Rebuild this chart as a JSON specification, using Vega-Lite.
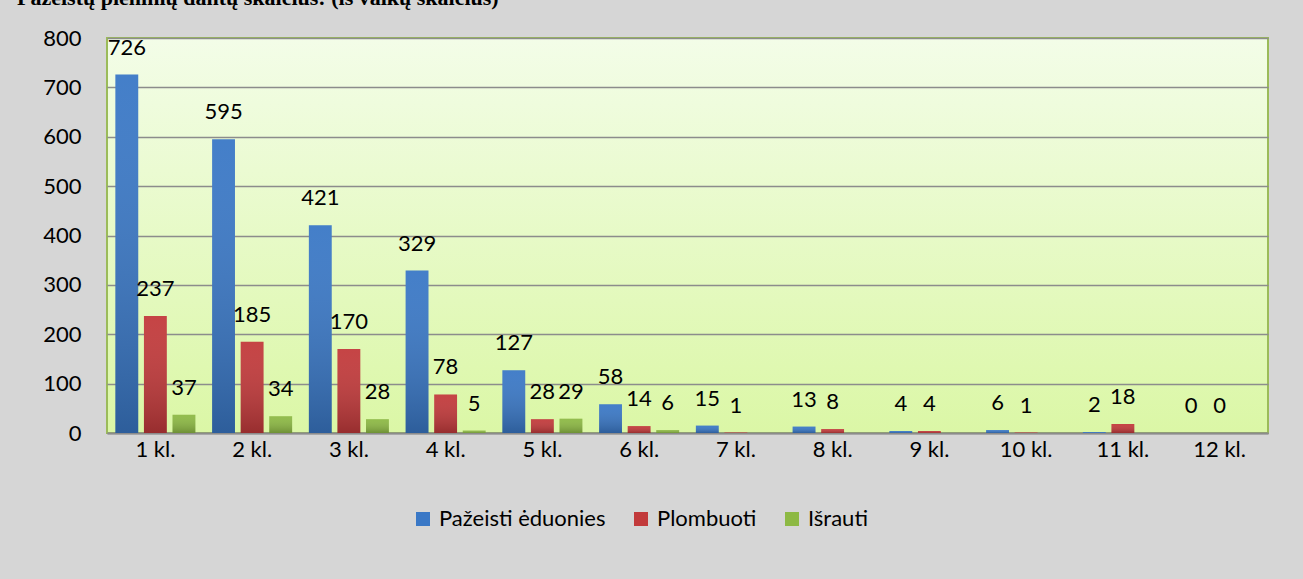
{
  "$schema": "https://vega.github.io/schema/vega-lite/v6.json",
  "width": 1161,
  "height": 395,
  "autosize": {"type": "none"},
  "padding": {"left": 107, "top": 38, "right": 35, "bottom": 146},
  "background": "#d6d6d6",
  "title": {
    "text": "Pažeistų pieninių dantų skaičius: (iš vaikų skaičius)",
    "font": "Liberation Serif",
    "fontWeight": "bold",
    "fontSize": 22,
    "color": "#000000",
    "anchor": "start",
    "frame": "group",
    "baseline": "alphabetic",
    "offset": 0,
    "dx": -90,
    "dy": 0
  },
  "config": {
    "view": {
      "fill": {
        "gradient": "linear",
        "x1": 0, "y1": 0, "x2": 0, "y2": 1,
        "stops": [
          {"offset": 0, "color": "#f3fde8"},
          {"offset": 1, "color": "#dbf7a6"}
        ]
      },
      "stroke": "#9bbb59",
      "strokeWidth": 2
    },
    "font": "Lato"
  },
  "data": {
    "values": [
      {"klase": "1 kl.", "serija": "Pažeisti ėduonies", "value": 726},
      {"klase": "1 kl.", "serija": "Plombuoti", "value": 237},
      {"klase": "1 kl.", "serija": "Išrauti", "value": 37},
      {"klase": "2 kl.", "serija": "Pažeisti ėduonies", "value": 595},
      {"klase": "2 kl.", "serija": "Plombuoti", "value": 185},
      {"klase": "2 kl.", "serija": "Išrauti", "value": 34},
      {"klase": "3 kl.", "serija": "Pažeisti ėduonies", "value": 421},
      {"klase": "3 kl.", "serija": "Plombuoti", "value": 170},
      {"klase": "3 kl.", "serija": "Išrauti", "value": 28},
      {"klase": "4 kl.", "serija": "Pažeisti ėduonies", "value": 329},
      {"klase": "4 kl.", "serija": "Plombuoti", "value": 78},
      {"klase": "4 kl.", "serija": "Išrauti", "value": 5},
      {"klase": "5 kl.", "serija": "Pažeisti ėduonies", "value": 127},
      {"klase": "5 kl.", "serija": "Plombuoti", "value": 28},
      {"klase": "5 kl.", "serija": "Išrauti", "value": 29},
      {"klase": "6 kl.", "serija": "Pažeisti ėduonies", "value": 58},
      {"klase": "6 kl.", "serija": "Plombuoti", "value": 14},
      {"klase": "6 kl.", "serija": "Išrauti", "value": 6},
      {"klase": "7 kl.", "serija": "Pažeisti ėduonies", "value": 15},
      {"klase": "7 kl.", "serija": "Plombuoti", "value": 1},
      {"klase": "8 kl.", "serija": "Pažeisti ėduonies", "value": 13},
      {"klase": "8 kl.", "serija": "Plombuoti", "value": 8},
      {"klase": "9 kl.", "serija": "Pažeisti ėduonies", "value": 4},
      {"klase": "9 kl.", "serija": "Plombuoti", "value": 4},
      {"klase": "10 kl.", "serija": "Pažeisti ėduonies", "value": 6},
      {"klase": "10 kl.", "serija": "Plombuoti", "value": 1},
      {"klase": "11 kl.", "serija": "Pažeisti ėduonies", "value": 2},
      {"klase": "11 kl.", "serija": "Plombuoti", "value": 18},
      {"klase": "12 kl.", "serija": "Pažeisti ėduonies", "value": 0},
      {"klase": "12 kl.", "serija": "Plombuoti", "value": 0}
    ]
  },
  "encoding": {
    "x": {
      "field": "klase",
      "type": "nominal",
      "sort": ["1 kl.", "2 kl.", "3 kl.", "4 kl.", "5 kl.", "6 kl.", "7 kl.", "8 kl.", "9 kl.", "10 kl.", "11 kl.", "12 kl."],
      "scale": {"paddingInner": 0.173, "paddingOuter": 0.0865},
      "axis": {
        "title": null,
        "labelAngle": 0,
        "labelFontSize": 22,
        "labelColor": "#000000",
        "labelFont": "Lato",
        "labelPadding": 6,
        "ticks": false,
        "domainColor": "#8c8c8c",
        "domainWidth": 2
      }
    },
    "xOffset": {
      "field": "serija",
      "type": "nominal",
      "sort": ["Pažeisti ėduonies", "Plombuoti", "Išrauti"],
      "scale": {"paddingInner": 0.2, "paddingOuter": 0}
    },
    "y": {
      "field": "value",
      "type": "quantitative",
      "scale": {"domain": [0, 800]},
      "axis": {
        "title": null,
        "values": [0, 100, 200, 300, 400, 500, 600, 700, 800],
        "labelFontSize": 22,
        "labelColor": "#000000",
        "labelFont": "Lato",
        "labelPadding": 26,
        "ticks": false,
        "domain": false,
        "gridColor": "#8c8c8c",
        "gridWidth": 1.5
      }
    }
  },
  "layer": [
    {
      "mark": {"type": "bar"},
      "encoding": {
        "color": {
          "field": "serija",
          "type": "nominal",
          "sort": ["Pažeisti ėduonies", "Plombuoti", "Išrauti"],
          "scale": {
            "domain": ["Pažeisti ėduonies", "Plombuoti", "Išrauti"],
            "range": ["#3a78c6", "#c23a3b", "#8db944"]
          },
          "legend": {
            "title": null,
            "orient": "none",
            "direction": "horizontal",
            "legendX": 305,
            "legendY": 470,
            "symbolType": "square",
            "symbolSize": 196,
            "symbolStrokeWidth": 0,
            "labelFontSize": 22,
            "labelFont": "Lato",
            "labelColor": "#000000",
            "labelOffset": 5,
            "labelLimit": 0,
            "columnPadding": 24
          }
        }
      }
    },
    {
      "mark": {
        "type": "bar",
        "fill": {
          "gradient": "linear",
          "x1": 0, "y1": 0, "x2": 0, "y2": 1,
          "stops": [
            {"offset": 0, "color": "rgba(255,255,255,0.05)"},
            {"offset": 1, "color": "rgba(0,0,0,0.22)"}
          ]
        }
      },
      "encoding": {}
    },
    {
      "mark": {"type": "text", "baseline": "middle", "dy": -27, "fontSize": 22, "font": "Lato", "color": "#000000"},
      "encoding": {"text": {"field": "value", "type": "quantitative"}}
    }
  ]
}
